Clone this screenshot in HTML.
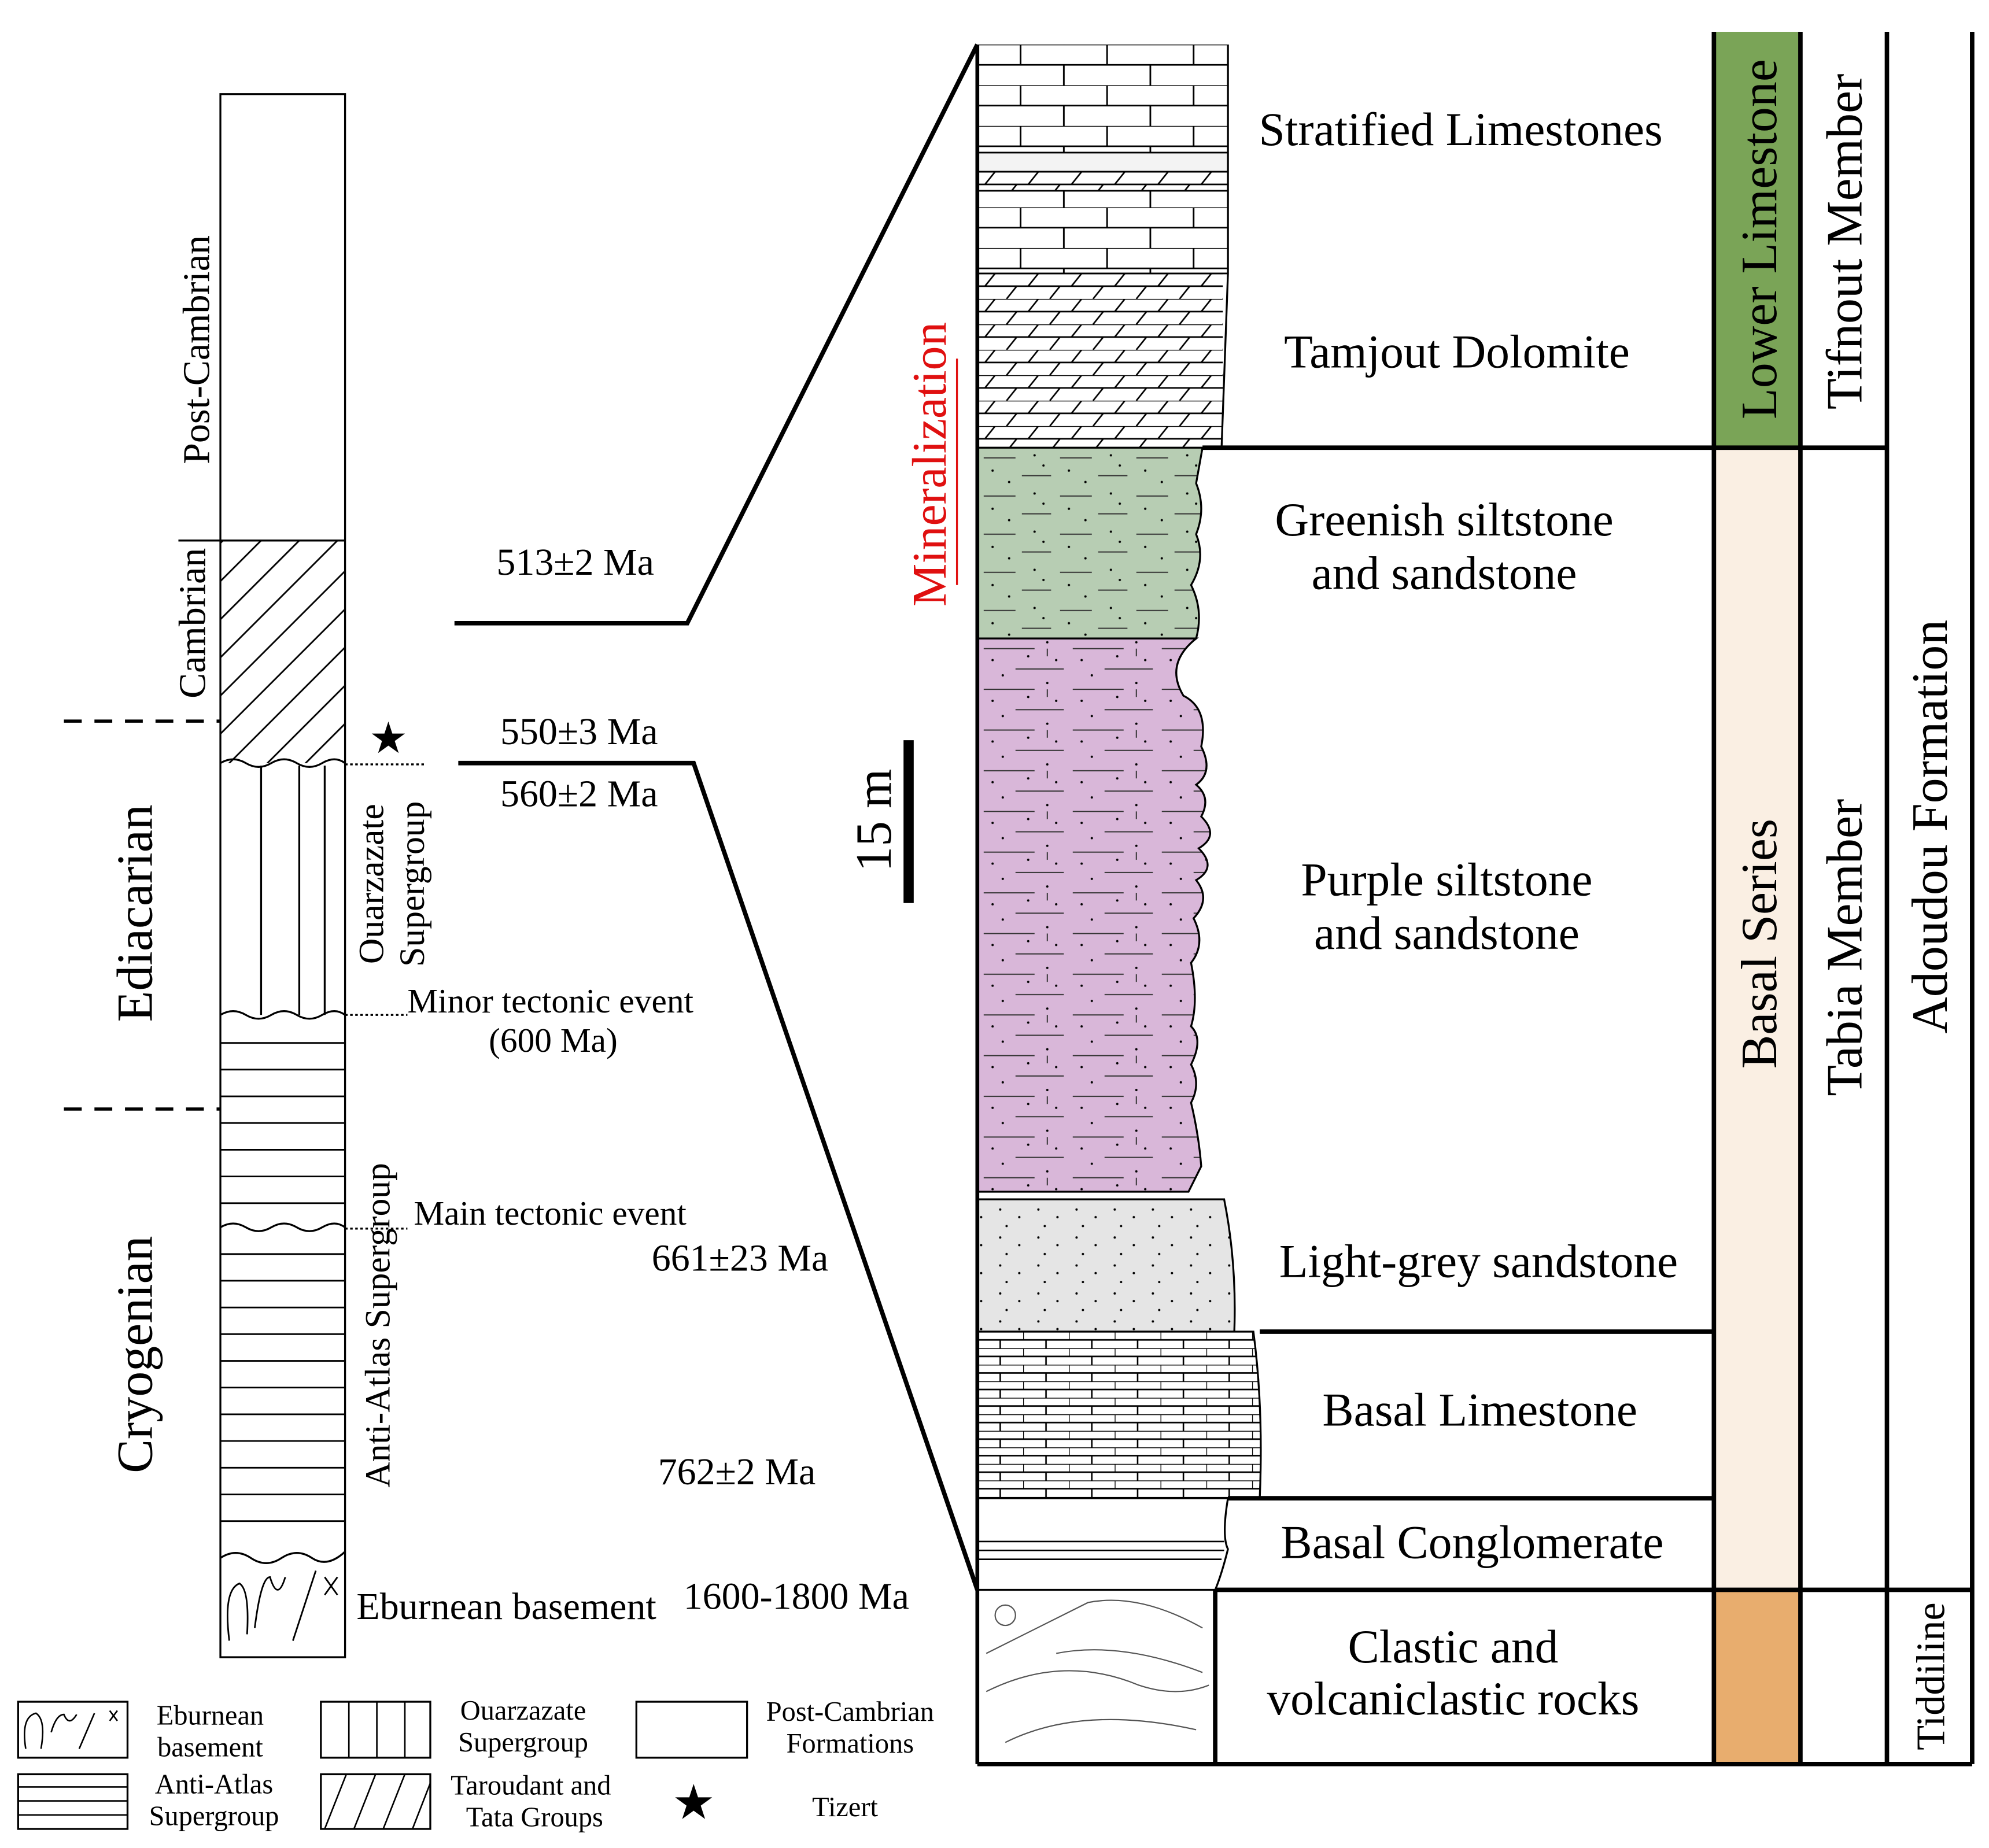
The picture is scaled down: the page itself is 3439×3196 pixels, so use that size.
<!DOCTYPE html>
<html><head><meta charset="utf-8"><style>html,body{margin:0;padding:0;background:#fff}svg{display:block}text{font-family:"Liberation Serif",serif;fill:#000}</style></head>
<body>
<svg width="3439" height="3196" viewBox="0 0 1563 1453" xmlns="http://www.w3.org/2000/svg">
<defs>
<pattern id="brick" width="68" height="32" patternUnits="userSpaceOnUse" x="768" y="35">
<rect width="68" height="32" fill="#fff"/>
<path d="M0 0H68M0 16H68M34 0V16M0 16V32M68 16V32" stroke="#000" stroke-width="1.3" fill="none"/>
</pattern>
<pattern id="dolo" width="68" height="20" patternUnits="userSpaceOnUse" x="768" y="215">
<rect width="68" height="20" fill="#fff"/>
<path d="M0 0H68M0 10H68M6 10L14 0M40 10L48 0M23 20L31 10M57 20L65 10" stroke="#000" stroke-width="1.2" fill="none"/>
</pattern>
<pattern id="sbrick" width="36" height="13" patternUnits="userSpaceOnUse" x="768" y="1047">
<rect width="36" height="13" fill="#fff"/>
<path d="M0 0H36M0 6.5H36M0 0V6.5M18 6.5V13" stroke="#000" stroke-width="1.2" fill="none"/>
</pattern>
<pattern id="gsilt" width="60" height="30" patternUnits="userSpaceOnUse" x="768" y="352">
<rect width="60" height="30" fill="#b7cdb3"/>
<path d="M5 8H30M35 22H58" stroke="#333" stroke-width="0.9"/>
<circle cx="12" cy="18" r="0.9" fill="#000"/><circle cx="45" cy="6" r="0.9" fill="#000"/><circle cx="25" cy="27" r="0.9" fill="#000"/><circle cx="52" cy="14" r="0.9" fill="#000"/>
</pattern>
<pattern id="psilt" width="70" height="32" patternUnits="userSpaceOnUse" x="768" y="502">
<rect width="70" height="32" fill="#d9b7d9"/>
<path d="M5 8H45M30 24H68M55 8V14" stroke="#333" stroke-width="0.9"/>
<circle cx="12" cy="17" r="0.9" fill="#000"/><circle cx="55" cy="3" r="0.9" fill="#000"/><circle cx="20" cy="29" r="0.9" fill="#000"/><circle cx="62" cy="17" r="0.9" fill="#000"/><circle cx="40" cy="14" r="0.9" fill="#000"/>
</pattern>
<pattern id="dots" width="30" height="22" patternUnits="userSpaceOnUse">
<rect width="30" height="22" fill="#e5e5e5"/>
<circle cx="6" cy="5" r="0.9" fill="#000"/><circle cx="21" cy="11" r="0.9" fill="#000"/><circle cx="11" cy="18" r="0.9" fill="#000"/>
</pattern>
<pattern id="diag" width="30" height="30" patternUnits="userSpaceOnUse">
<path d="M0 30L30 0M-5 5L5 -5M25 35L35 25" stroke="#000" stroke-width="1.3"/>
</pattern>
</defs>

<rect x="173" y="74" width="98" height="1229" fill="#fff" stroke="#000" stroke-width="1.5"/>
<rect x="173" y="425" width="98" height="175" fill="url(#diag)"/>
<line x1="140" y1="425" x2="271" y2="425" stroke="#000" stroke-width="1.5"/>
<path d="M173 600q10-6 20 0t20 0t20 0t20 0t18 0" stroke="#000" stroke-width="1.5" fill="none"/>
<path d="M205 602V798M235 602V798M255 602V798" stroke="#000" stroke-width="1.5"/>
<path d="M173 798q10-6 20 0t20 0t20 0t20 0t18 0" stroke="#000" stroke-width="1.5" fill="none"/>
<path d="M173 820H271M173 841H271M173 862H271M173 883H271M173 904H271M173 925H271M173 946H271M173 986H271M173 1007H271M173 1028H271M173 1049H271M173 1070H271M173 1091H271M173 1112H271M173 1133H271M173 1154H271M173 1175H271M173 1196H271" stroke="#000" stroke-width="1.3"/>
<path d="M173 965q10-6 20 0t20 0t20 0t20 0t18 0" stroke="#000" stroke-width="1.5" fill="none"/>
<path d="M173 1225q12-8 24 0t24 0t24 0t26 -5" stroke="#000" stroke-width="1.5" fill="none"/>
<path d="M180 1290q-5-40 8-45q8 5 6 40M200 1280q5-40 12-40q6 20 12 0M230 1290l18-55M255 1240l10 14M265 1240l-10 14" stroke="#000" stroke-width="1.3" fill="none"/>
<path d="M50 567H173M50 872H173" stroke="#000" stroke-width="2.5" stroke-dasharray="14 10"/>
<path d="M271 601H335M271 798H320M271 966H320" stroke="#000" stroke-width="1.5" stroke-dasharray="2 2"/>
<text x="305" y="592" font-size="34" text-anchor="middle">★</text>

<text transform="translate(164,275) rotate(-90)" font-size="30" text-anchor="middle">Post-Cambrian</text>
<text transform="translate(161,490) rotate(-90)" font-size="30" text-anchor="middle">Cambrian</text>
<text transform="translate(119,718) rotate(-90)" font-size="40" text-anchor="middle">Ediacarian</text>
<text transform="translate(119,1065) rotate(-90)" font-size="40" text-anchor="middle">Cryogenian</text>
<text transform="translate(301,695) rotate(-90)" font-size="28" text-anchor="middle">Ouarzazate</text>
<text transform="translate(333,695) rotate(-90)" font-size="28" text-anchor="middle">Supergroup</text>
<text transform="translate(306,1042) rotate(-90)" font-size="28" text-anchor="middle">Anti-Atlas Supergroup</text>

<g font-size="30">
<text x="390" y="452">513±2 Ma</text>
<text x="393" y="585">550±3 Ma</text>
<text x="393" y="634">560±2 Ma</text>
<text x="320" y="796" font-size="27">Minor tectonic event</text>
<text x="384" y="827" font-size="27">(600 Ma)</text>
<text x="325" y="963" font-size="27">Main tectonic event</text>
<text x="512" y="999">661±23 Ma</text>
<text x="517" y="1167">762±2 Ma</text>
<text x="280" y="1273">Eburnean basement</text>
<text x="537" y="1265">1600-1800 Ma</text>
</g>

<path d="M357 490H540L768 35" stroke="#000" stroke-width="3.5" fill="none"/>
<path d="M360 600H545L768 1250" stroke="#000" stroke-width="3.5" fill="none"/>

<rect x="768" y="35" width="197" height="85" fill="url(#brick)"/>
<rect x="768" y="120" width="197" height="15" fill="#f3f3f3"/>
<rect x="768" y="135" width="197" height="15" fill="url(#dolo)"/>
<rect x="768" y="150" width="197" height="65" fill="url(#brick)"/>
<rect x="768" y="215" width="193" height="137" fill="url(#dolo)"/>
<path d="M768 120H965M768 135H965M768 150H965M768 215H965" stroke="#000" stroke-width="1.3"/>
<path d="M965 35V215L960 352" stroke="#000" stroke-width="1.5" fill="none"/>
<path d="M768 352H945L940 380q8 20 0 40q8 20 -4 40q10 20 4 42H768Z" fill="url(#gsilt)" stroke="#000" stroke-width="1.5"/>
<path d="M768 502H940q-25 20-10 45q20 10 14 40q10 20-4 30q12 10 4 25q15 15-2 25q15 15 -2 25q12 15-2 30q10 20-2 35q6 30 0 50q10 10 0 30q8 15 0 30q6 25 8 50q-5 10-10 20H768Z" fill="url(#psilt)" stroke="#000" stroke-width="1.5"/>
<path d="M768 943H962q10 50 8 104H768Z" fill="url(#dots)" stroke="#000" stroke-width="1.5"/>
<path d="M768 1047H985q8 60 5 131H768Z" fill="url(#sbrick)" stroke="#000" stroke-width="1.5"/>
<path d="M768 1178H965q-5 30 0 40q-5 20-10 32H768Z" fill="#fff" stroke="#000" stroke-width="1.5"/>
<path d="M768 1212H962M768 1219H962M768 1226H960" stroke="#000" stroke-width="1.2"/>
<path d="M775 1300q40-20 80-40q40-8 90 20M775 1330q60-30 120-5q30 10 55 0M790 1370q60-30 150 -10M830 1300q50-10 115 15" stroke="#555" stroke-width="1" fill="none"/>
<circle cx="790" cy="1270" r="8" fill="none" stroke="#555" stroke-width="1"/>
<line x1="768" y1="35" x2="768" y2="1387" stroke="#000" stroke-width="3"/>

<rect x="1347" y="25" width="68" height="327" fill="#7aa457"/>
<rect x="1347" y="352" width="68" height="898" fill="#faefe3"/>
<rect x="1347" y="1250" width="68" height="137" fill="#e8ad6e"/>
<g stroke="#000" stroke-width="3.5" fill="none">
<path d="M945 352H1483M990 1047H1347M965 1178H1347M955 1250H1550M768 1387H1550"/>
<path d="M1347 25V1387M1415 25V1387M1483 25V1387M1550 25V1387M955 1250V1387"/>
</g>

<g font-size="37" text-anchor="middle">
<text x="1148" y="114">Stratified Limestones</text>
<text x="1145" y="289">Tamjout Dolomite</text>
<text x="1135" y="421">Greenish siltstone</text>
<text x="1135" y="463">and sandstone</text>
<text x="1137" y="704">Purple siltstone</text>
<text x="1137" y="746">and sandstone</text>
<text x="1162" y="1004">Light-grey sandstone</text>
<text x="1163" y="1121">Basal Limestone</text>
<text x="1157" y="1225">Basal Conglomerate</text>
<text x="1142" y="1307">Clastic and</text>
<text x="1142" y="1348">volcaniclastic rocks</text>
<text transform="translate(1396,188) rotate(-90)" font-size="40">Lower Limestone</text>
<text transform="translate(1396,742) rotate(-90)" font-size="40">Basal Series</text>
<text transform="translate(1463,190) rotate(-90)" font-size="40">Tifnout Member</text>
<text transform="translate(1463,745) rotate(-90)" font-size="40">Tabia Member</text>
<text transform="translate(1530,650) rotate(-90)" font-size="40">Adoudou Formation</text>
<text transform="translate(1528,1318) rotate(-90)" font-size="32">Tiddiline</text>
<text transform="translate(743,365) rotate(-90)" style="fill:#e01010" font-size="38">Mineralization</text>
<text transform="translate(700,645) rotate(-90)" font-size="40">15 m</text>
</g>
<line x1="752" y1="282" x2="752" y2="460" stroke="#e01010" stroke-width="1.5"/>
<line x1="714" y1="582" x2="714" y2="710" stroke="#000" stroke-width="8"/>

<g stroke="#000" stroke-width="1.5" fill="#fff">
<rect x="14" y="1338" width="86" height="44"/>
<rect x="14" y="1395" width="86" height="43"/>
<rect x="252" y="1338" width="86" height="44"/>
<rect x="252" y="1395" width="86" height="43"/>
<rect x="500" y="1338" width="87" height="44"/>
</g>
<path d="M20 1375q-4-25 8-28q8 5 4 28M40 1362q4-14 10-14q4 10 10 0M62 1375l12-28M86 1345l6 8M92 1345l-6 8" stroke="#000" stroke-width="1.2" fill="none"/>
<path d="M14 1405H100M14 1416H100M14 1427H100" stroke="#000" stroke-width="1.2"/>
<path d="M274 1338V1382M296 1338V1382M318 1338V1382" stroke="#000" stroke-width="1.2"/>
<path d="M255 1438L272 1395M278 1438L295 1395M301 1438L318 1395M324 1438L338 1402" stroke="#000" stroke-width="1.2"/>
<text x="545" y="1430" font-size="38" text-anchor="middle">★</text>
<g font-size="22" text-anchor="middle">
<text x="165" y="1356">Eburnean</text><text x="165" y="1381">basement</text>
<text x="168" y="1410">Anti-Atlas</text><text x="168" y="1435">Supergroup</text>
<text x="411" y="1352">Ouarzazate</text><text x="411" y="1377">Supergroup</text>
<text x="417" y="1411">Taroudant and</text><text x="420" y="1436">Tata Groups</text>
<text x="668" y="1353">Post-Cambrian</text><text x="668" y="1378">Formations</text>
<text x="664" y="1428">Tizert</text>
</g>
</svg>
</body></html>
